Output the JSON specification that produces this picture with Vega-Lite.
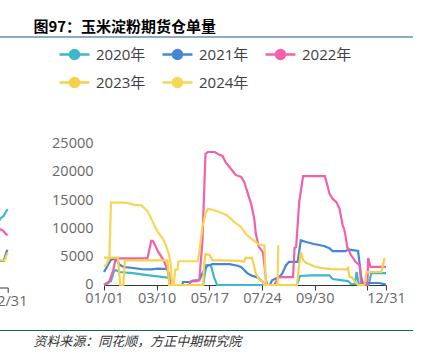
{
  "$schema": "https://vega.github.io/schema/vega-lite/v6.json",
  "background": "white",
  "padding": {"top": 20, "left": -13.3, "right": 10, "bottom": 5},
  "config": {"view": {"stroke": null}, "font": "Open Sans, Noto Sans CJK SC"},
  "spacing": 97.5,
  "datasets": {
    "one": [{"a": 0, "b": 1, "c": 0}],
    "frag": [
      {"year": "2020年", "day": 350, "v": 11200}, {"year": "2020年", "day": 353, "v": 10850}, {"year": "2020年", "day": 357, "v": 12050}, {"year": "2020年", "day": 360, "v": 12400}, {"year": "2020年", "day": 362, "v": 13100}, {"year": "2020年", "day": 364, "v": 13600},
      {"year": "2021年", "day": 350, "v": 4450}, {"year": "2021年", "day": 357, "v": 4600}, {"year": "2021年", "day": 360, "v": 4600}, {"year": "2021年", "day": 363, "v": 6300}, {"year": "2021年", "day": 364, "v": 6500},
      {"year": "2022年", "day": 350, "v": 10850}, {"year": "2022年", "day": 357, "v": 10050}, {"year": "2022年", "day": 360, "v": 9800}, {"year": "2022年", "day": 362, "v": 9300}, {"year": "2022年", "day": 364, "v": 9100},
      {"year": "2023年", "day": 350, "v": 4700}, {"year": "2023年", "day": 357, "v": 4700}, {"year": "2023年", "day": 361, "v": 4700}, {"year": "2023年", "day": 363, "v": 5700}, {"year": "2023年", "day": 364, "v": 6000}
    ],
    "main": [
      {"year": "2020年", "day": 0, "v": 0}, {"year": "2020年", "day": 5, "v": 500}, {"year": "2020年", "day": 9, "v": 700}, {"year": "2020年", "day": 13, "v": 2500}, {"year": "2020年", "day": 15, "v": 2650}, {"year": "2020年", "day": 20, "v": 2300}, {"year": "2020年", "day": 37, "v": 2100}, {"year": "2020年", "day": 58, "v": 1700}, {"year": "2020年", "day": 80, "v": 1350}, {"year": "2020年", "day": 84, "v": 1300}, {"year": "2020年", "day": 86, "v": 0}, {"year": "2020年", "day": 128, "v": 0}, {"year": "2020年", "day": 132, "v": 3500}, {"year": "2020年", "day": 138, "v": 3500}, {"year": "2020年", "day": 142, "v": 1400}, {"year": "2020年", "day": 146, "v": 0}, {"year": "2020年", "day": 249, "v": 0}, {"year": "2020年", "day": 253, "v": 1600}, {"year": "2020年", "day": 267, "v": 1700}, {"year": "2020年", "day": 291, "v": 1700}, {"year": "2020年", "day": 295, "v": 1050}, {"year": "2020年", "day": 308, "v": 830}, {"year": "2020年", "day": 315, "v": 700}, {"year": "2020年", "day": 319, "v": 180}, {"year": "2020年", "day": 324, "v": 180}, {"year": "2020年", "day": 326, "v": 2300}, {"year": "2020年", "day": 329, "v": 100}, {"year": "2020年", "day": 342, "v": 100}, {"year": "2020年", "day": 345, "v": 2100}, {"year": "2020年", "day": 364, "v": 2100},
      {"year": "2021年", "day": 0, "v": 2300}, {"year": "2021年", "day": 5, "v": 3500}, {"year": "2021年", "day": 9, "v": 4450}, {"year": "2021年", "day": 13, "v": 4600}, {"year": "2021年", "day": 17, "v": 4300}, {"year": "2021年", "day": 20, "v": 3600}, {"year": "2021年", "day": 26, "v": 3150}, {"year": "2021年", "day": 35, "v": 3050}, {"year": "2021年", "day": 48, "v": 2800}, {"year": "2021年", "day": 61, "v": 2750}, {"year": "2021年", "day": 69, "v": 2900}, {"year": "2021年", "day": 76, "v": 2850}, {"year": "2021年", "day": 82, "v": 2850}, {"year": "2021年", "day": 85, "v": 0}, {"year": "2021年", "day": 101, "v": 0}, {"year": "2021年", "day": 102, "v": 530}, {"year": "2021年", "day": 112, "v": 530}, {"year": "2021年", "day": 115, "v": 800}, {"year": "2021年", "day": 123, "v": 880}, {"year": "2021年", "day": 128, "v": 2300}, {"year": "2021年", "day": 133, "v": 3350}, {"year": "2021年", "day": 140, "v": 3700}, {"year": "2021年", "day": 162, "v": 3700}, {"year": "2021年", "day": 171, "v": 3450}, {"year": "2021年", "day": 177, "v": 3200}, {"year": "2021年", "day": 185, "v": 2100}, {"year": "2021年", "day": 190, "v": 1700}, {"year": "2021年", "day": 199, "v": 1300}, {"year": "2021年", "day": 205, "v": 530}, {"year": "2021年", "day": 208, "v": 0}, {"year": "2021年", "day": 214, "v": 0}, {"year": "2021年", "day": 217, "v": 830}, {"year": "2021年", "day": 226, "v": 1400}, {"year": "2021年", "day": 230, "v": 2000}, {"year": "2021年", "day": 235, "v": 3500}, {"year": "2021年", "day": 239, "v": 4100}, {"year": "2021年", "day": 250, "v": 4100}, {"year": "2021年", "day": 254, "v": 7900}, {"year": "2021年", "day": 261, "v": 7600}, {"year": "2021年", "day": 271, "v": 7250}, {"year": "2021年", "day": 284, "v": 6900}, {"year": "2021年", "day": 291, "v": 6500}, {"year": "2021年", "day": 295, "v": 6000}, {"year": "2021年", "day": 312, "v": 6000}, {"year": "2021年", "day": 315, "v": 6300}, {"year": "2021年", "day": 328, "v": 6000}, {"year": "2021年", "day": 330, "v": 3700}, {"year": "2021年", "day": 332, "v": 1400}, {"year": "2021年", "day": 334, "v": 350}, {"year": "2021年", "day": 355, "v": 350}, {"year": "2021年", "day": 363, "v": 100}, {"year": "2021年", "day": 364, "v": 100},
      {"year": "2022年", "day": 0, "v": 0}, {"year": "2022年", "day": 6, "v": 350}, {"year": "2022年", "day": 12, "v": 2650}, {"year": "2022年", "day": 15, "v": 4700}, {"year": "2022年", "day": 56, "v": 4700}, {"year": "2022年", "day": 61, "v": 7800}, {"year": "2022年", "day": 63, "v": 7800}, {"year": "2022年", "day": 66, "v": 7000}, {"year": "2022年", "day": 70, "v": 5850}, {"year": "2022年", "day": 77, "v": 4400}, {"year": "2022年", "day": 81, "v": 3000}, {"year": "2022年", "day": 84, "v": 2000}, {"year": "2022年", "day": 86, "v": 0}, {"year": "2022年", "day": 110, "v": 0}, {"year": "2022年", "day": 112, "v": 650}, {"year": "2022年", "day": 120, "v": 700}, {"year": "2022年", "day": 123, "v": 800}, {"year": "2022年", "day": 127, "v": 7600}, {"year": "2022年", "day": 131, "v": 23150}, {"year": "2022年", "day": 134, "v": 23500}, {"year": "2022年", "day": 143, "v": 23500}, {"year": "2022年", "day": 149, "v": 23000}, {"year": "2022年", "day": 153, "v": 22800}, {"year": "2022年", "day": 157, "v": 21700}, {"year": "2022年", "day": 162, "v": 20850}, {"year": "2022年", "day": 166, "v": 20150}, {"year": "2022年", "day": 170, "v": 19450}, {"year": "2022年", "day": 177, "v": 19100}, {"year": "2022年", "day": 181, "v": 18200}, {"year": "2022年", "day": 185, "v": 16450}, {"year": "2022年", "day": 190, "v": 14300}, {"year": "2022年", "day": 194, "v": 11650}, {"year": "2022年", "day": 196, "v": 9050}, {"year": "2022年", "day": 200, "v": 6700}, {"year": "2022年", "day": 205, "v": 5850}, {"year": "2022年", "day": 207, "v": 3750}, {"year": "2022年", "day": 209, "v": 880}, {"year": "2022年", "day": 211, "v": 0}, {"year": "2022年", "day": 220, "v": 0}, {"year": "2022年", "day": 225, "v": 1400}, {"year": "2022年", "day": 244, "v": 1400}, {"year": "2022年", "day": 246, "v": 6550}, {"year": "2022年", "day": 248, "v": 6700}, {"year": "2022年", "day": 252, "v": 14650}, {"year": "2022年", "day": 257, "v": 19250}, {"year": "2022年", "day": 285, "v": 19250}, {"year": "2022年", "day": 289, "v": 17300}, {"year": "2022年", "day": 291, "v": 16150}, {"year": "2022年", "day": 295, "v": 15250}, {"year": "2022年", "day": 300, "v": 14650}, {"year": "2022年", "day": 304, "v": 13500}, {"year": "2022年", "day": 306, "v": 12000}, {"year": "2022年", "day": 308, "v": 10550}, {"year": "2022年", "day": 310, "v": 9900}, {"year": "2022年", "day": 312, "v": 8500}, {"year": "2022年", "day": 314, "v": 6700}, {"year": "2022年", "day": 319, "v": 5250}, {"year": "2022年", "day": 325, "v": 4050}, {"year": "2022年", "day": 330, "v": 3500}, {"year": "2022年", "day": 332, "v": 0}, {"year": "2022年", "day": 340, "v": 0}, {"year": "2022年", "day": 341, "v": 4750}, {"year": "2022年", "day": 344, "v": 3200}, {"year": "2022年", "day": 364, "v": 3200},
      {"year": "2023年", "day": 0, "v": 4850}, {"year": "2023年", "day": 18, "v": 4850}, {"year": "2023年", "day": 21, "v": 0}, {"year": "2023年", "day": 25, "v": 0}, {"year": "2023年", "day": 27, "v": 4350}, {"year": "2023年", "day": 82, "v": 4350}, {"year": "2023年", "day": 84, "v": 0}, {"year": "2023年", "day": 128, "v": 0}, {"year": "2023年", "day": 129, "v": 3200}, {"year": "2023年", "day": 131, "v": 5500}, {"year": "2023年", "day": 136, "v": 5300}, {"year": "2023年", "day": 140, "v": 4400}, {"year": "2023年", "day": 152, "v": 4350}, {"year": "2023年", "day": 174, "v": 4250}, {"year": "2023年", "day": 181, "v": 4150}, {"year": "2023年", "day": 183, "v": 4800}, {"year": "2023年", "day": 191, "v": 4800}, {"year": "2023年", "day": 194, "v": 3200}, {"year": "2023年", "day": 196, "v": 2000}, {"year": "2023年", "day": 200, "v": 1100}, {"year": "2023年", "day": 205, "v": 530}, {"year": "2023年", "day": 207, "v": 0}, {"year": "2023年", "day": 249, "v": 0}, {"year": "2023年", "day": 254, "v": 5800}, {"year": "2023年", "day": 257, "v": 4400}, {"year": "2023年", "day": 261, "v": 3900}, {"year": "2023年", "day": 271, "v": 3300}, {"year": "2023年", "day": 280, "v": 3000}, {"year": "2023年", "day": 293, "v": 2800}, {"year": "2023年", "day": 313, "v": 2750}, {"year": "2023年", "day": 315, "v": 3000}, {"year": "2023年", "day": 317, "v": 1400}, {"year": "2023年", "day": 320, "v": 1400}, {"year": "2023年", "day": 324, "v": 530}, {"year": "2023年", "day": 328, "v": 0}, {"year": "2023年", "day": 336, "v": 0}, {"year": "2023年", "day": 339, "v": 2300}, {"year": "2023年", "day": 358, "v": 2300}, {"year": "2023年", "day": 362, "v": 4650}, {"year": "2023年", "day": 363, "v": 4750},
      {"year": "2024年", "day": 0, "v": 3300}, {"year": "2024年", "day": 3, "v": 3600}, {"year": "2024年", "day": 7, "v": 4900}, {"year": "2024年", "day": 8, "v": 10000}, {"year": "2024年", "day": 9, "v": 14550}, {"year": "2024年", "day": 22, "v": 14550}, {"year": "2024年", "day": 31, "v": 14500}, {"year": "2024年", "day": 39, "v": 14150}, {"year": "2024年", "day": 48, "v": 14100}, {"year": "2024年", "day": 52, "v": 13600}, {"year": "2024年", "day": 56, "v": 13100}, {"year": "2024年", "day": 59, "v": 12300}, {"year": "2024年", "day": 63, "v": 11150}, {"year": "2024年", "day": 67, "v": 9950}, {"year": "2024年", "day": 71, "v": 9050}, {"year": "2024年", "day": 76, "v": 8200}, {"year": "2024年", "day": 80, "v": 7000}, {"year": "2024年", "day": 84, "v": 5300}, {"year": "2024年", "day": 86, "v": 3750}, {"year": "2024年", "day": 88, "v": 0}, {"year": "2024年", "day": 90, "v": 0}, {"year": "2024年", "day": 92, "v": 2700}, {"year": "2024年", "day": 95, "v": 2700}, {"year": "2024年", "day": 96, "v": 4200}, {"year": "2024年", "day": 121, "v": 4200}, {"year": "2024年", "day": 123, "v": 5850}, {"year": "2024年", "day": 127, "v": 10250}, {"year": "2024年", "day": 131, "v": 12550}, {"year": "2024年", "day": 134, "v": 13450}, {"year": "2024年", "day": 141, "v": 13250}, {"year": "2024年", "day": 149, "v": 12900}, {"year": "2024年", "day": 159, "v": 12300}, {"year": "2024年", "day": 168, "v": 11150}, {"year": "2024年", "day": 177, "v": 10250}, {"year": "2024年", "day": 183, "v": 9050}, {"year": "2024年", "day": 190, "v": 8200}, {"year": "2024年", "day": 196, "v": 7600}, {"year": "2024年", "day": 200, "v": 7150}, {"year": "2024年", "day": 207, "v": 7000}, {"year": "2024年", "day": 209, "v": 0}, {"year": "2024年", "day": 224, "v": 0}, {"year": "2024年", "day": 225, "v": 7000}
    ]
  },
  "vconcat": [
    {
      "width": 425.3,
      "height": 1,
      "data": {"name": "one"},
      "title": {"text": "图97：玉米淀粉期货仓单量", "anchor": "start", "orient": "top", "dx": 46.3, "offset": 1, "fontSize": 15, "fontWeight": "bold", "font": "Noto Sans CJK SC", "color": "#000000"},
      "mark": {"type": "rule", "color": "#1F5C8B", "strokeWidth": 1.2},
      "encoding": {
        "x": {"field": "a", "type": "quantitative", "scale": {"domain": [0, 1]}, "axis": null},
        "x2": {"field": "b"},
        "y": {"field": "c", "type": "quantitative", "scale": {"domain": [0, 1]}, "axis": null}
      }
    },
    {
      "spacing": 8,
      "vconcat": [
        {
          "hconcat": [
            {
              "width": 20,
              "height": 144,
              "data": {"name": "frag"},
              "mark": {"type": "line", "strokeWidth": 2.2},
              "encoding": {
                "x": {"field": "day", "type": "quantitative", "scale": {"domain": [344, 364], "nice": false, "zero": false},
                  "axis": {"title": null, "values": [364], "labelExpr": "'12/31'", "grid": false, "domainColor": "#333333", "tickColor": "#333333", "tickSize": 5, "labelPadding": 2, "labelFontSize": 14.5, "labelColor": "#666666", "labelFont": "Open Sans", "labelOverlap": false, "labelFlush": false, "labelBound": false}},
                "y": {"field": "v", "type": "quantitative", "scale": {"domain": [0, 25000], "nice": false}, "axis": null},
                "stroke": {"field": "year", "type": "nominal", "scale": {"domain": ["2020年", "2021年", "2022年", "2023年"], "range": ["#3BB8CC", "#4587D5", "#F35FA9", "#F5D24C"]}, "legend": null}
              }
            },
            {
              "width": 282,
              "height": 141.5,
              "data": {"name": "main"},
              "mark": {"type": "line", "strokeWidth": 2.2},
              "encoding": {
                "x": {"field": "day", "type": "quantitative", "scale": {"domain": [0, 364], "nice": false, "zero": false},
                  "axis": {"title": null, "values": [0, 68, 136, 204, 272, 340, 364], "labelExpr": "datum.value == 0 ? '01/01' : datum.value == 68 ? '03/10' : datum.value == 136 ? '05/17' : datum.value == 204 ? '07/24' : datum.value == 272 ? '09/30' : datum.value == 364 ? '12/31' : ''", "grid": false, "domainColor": "#333333", "tickColor": "#333333", "tickSize": 5, "labelPadding": 2, "labelFontSize": 14.5, "labelColor": "#666666", "labelFont": "Open Sans", "labelOverlap": false, "labelFlush": false, "labelBound": false}},
                "y": {"field": "v", "type": "quantitative", "scale": {"domain": [0, 25000], "nice": false},
                  "axis": {"title": null, "values": [0, 5000, 10000, 15000, 20000, 25000], "format": "d", "grid": false, "domain": false, "ticks": false, "tickSize": 0, "labelPadding": 11, "labelFontSize": 14.5, "labelColor": "#666666", "labelFont": "Open Sans"}},
                "color": {"field": "year", "type": "nominal", "scale": {"domain": ["2020年", "2021年", "2022年", "2023年", "2024年"], "range": ["#3BB8CC", "#4587D5", "#F35FA9", "#F5D24C", "#F6D655"]},
                  "legend": {"orient": "none", "legendX": 70.3, "legendY": 2, "direction": "horizontal", "columns": 3, "gridAlign": "none", "title": null, "padding": 0,
                    "symbolType": "M-1,0L1,0M-0.3,0A0.3,0.3,0,1,1,0.3,0A0.3,0.3,0,1,1,-0.3,0ZM-0.18,0A0.18,0.18,0,1,1,0.18,0A0.18,0.18,0,1,1,-0.18,0ZM-0.07,0A0.07,0.07,0,1,1,0.07,0A0.07,0.07,0,1,1,-0.07,0Z", "symbolSize": 900, "symbolStrokeWidth": 2.5,
                    "labelFontSize": 15, "labelColor": "#404040", "labelFont": "Open Sans, Noto Sans CJK SC", "labelOffset": 5, "columnPadding": 11, "rowPadding": 2}}
              }
            }
          ],
          "spacing": 96.3,
          "bounds": "flush"
        },
        {
          "width": 425.3,
          "height": 14,
          "data": {"name": "one"},
          "title": {"text": "资料来源：同花顺，方正中期研究院", "anchor": "start", "orient": "bottom", "dx": 46.3, "offset": 5, "fontSize": 13, "fontStyle": "italic", "fontWeight": "normal", "font": "Noto Sans CJK SC", "color": "#333333"},
          "mark": {"type": "rule", "color": "#1F5C8B", "strokeWidth": 1.2},
          "encoding": {
            "x": {"field": "a", "type": "quantitative", "scale": {"domain": [0, 1]}, "axis": null},
            "x2": {"field": "b"},
            "y": {"field": "c", "type": "quantitative", "scale": {"domain": [0, 1]}, "axis": null}
          }
        }
      ]
    }
  ]
}
